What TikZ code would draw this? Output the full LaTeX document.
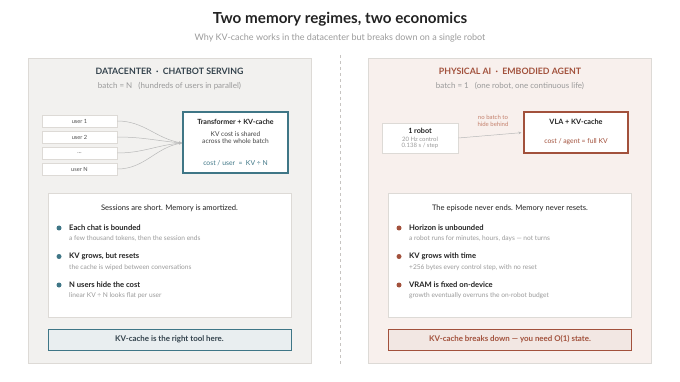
\documentclass[tikz,border=0pt]{standalone}
\usepackage{fontspec}
\setmainfont{Lato}
\usetikzlibrary{arrows.meta,positioning}

\definecolor{ink}{HTML}{222222}
\definecolor{mutedtxt}{HTML}{9A9A9A}
\definecolor{dcteal}{HTML}{3F7686}
\definecolor{dchead}{HTML}{34434D}
\definecolor{dcpanel}{HTML}{F2F1EF}
\definecolor{dcverdict}{HTML}{E9EEF0}
\definecolor{pairust}{HTML}{A2513C}
\definecolor{paipanel}{HTML}{F8F0ED}
\definecolor{paiverdict}{HTML}{F2E7E3}
\definecolor{paisoft}{HTML}{C4806C}
\definecolor{rule}{HTML}{DDDAD6}
\definecolor{wire}{HTML}{B9B9B9}

\begin{document}
\begin{tikzpicture}[x=1pt, y=-1pt,
  panel/.style={rectangle, draw=rule, line width=0.8pt, fill=#1,
    minimum width=283pt, minimum height=305pt, inner sep=0pt},
  card/.style={rectangle, draw=rule, line width=0.6pt, fill=white,
    minimum width=243pt, minimum height=124pt, inner sep=0pt},
  userbox/.style={rectangle, draw=rule, line width=0.6pt, fill=white,
    minimum width=75pt, minimum height=12pt, inner sep=0pt,
    font=\fontsize{5.7}{6.5}\selectfont, text=ink!80},
  modelbox/.style={rectangle, draw=#1, line width=1.1pt, fill=white, inner sep=0pt},
  verdict/.style={rectangle, draw=#1, line width=0.9pt, minimum width=243pt,
    minimum height=21pt, inner sep=0pt, font=\bfseries\fontsize{7.9}{9}\selectfont},
  bullet/.style={circle, fill=#1, inner sep=0pt, minimum size=5pt},
  pointtitle/.style={anchor=west, inner sep=0pt, text=ink,
    font=\bfseries\fontsize{7.6}{9}\selectfont},
  pointnote/.style={anchor=west, inner sep=0pt, text=mutedtxt,
    font=\fontsize{6.6}{7.5}\selectfont},
  feed/.style={draw=wire, line width=0.5pt, -{Stealth[length=3pt,width=2.6pt]}}
]
\useasboundingbox (0,0) rectangle (680,382);

% title
\node[font=\bfseries\fontsize{15.2}{18}\selectfont, text=ink] (title) at (340,19) {Two memory regimes, two economics};
\node[font=\fontsize{9}{11}\selectfont, text=mutedtxt] (subtitle) at (340,38) {Why KV-cache works in the datacenter but breaks down on a single robot};

\node[panel=dcpanel] (dc) at (169.5,210.5) {};
\node[panel=paipanel] (pai) at (510,210.5) {};
\draw[rule!90!black, line width=0.6pt, dash pattern=on 3pt off 3pt] (340,55) coordinate (divtop) -- (340,366) coordinate (divbot);

% datacenter side
\node[font=\bfseries\fontsize{8.8}{10}\selectfont, text=dchead] (dchead) at (169.5,71) {DATACENTER \ · \ CHATBOT SERVING};
\node[font=\fontsize{8}{9}\selectfont, text=mutedtxt] (dcbatch) at (169.5,86) {batch = N \ \ (hundreds of users in parallel)};

\node[userbox] (u1) at (79.5,121) {user 1};
\node[userbox] (u2) at (79.5,137) {user 2};
\node[userbox] (u3) at (79.5,153) {…};
\node[userbox] (uN) at (79.5,169) {user N};

\node[modelbox=dcteal, minimum width=105pt, minimum height=61pt] (tf) at (235.5,142.5) {};
\coordinate (hub) at (182,143);
\draw[feed] (u1.east) to[out=0,in=170] (hub);
\draw[feed] (u2.east) to[out=0,in=175] (hub);
\draw[feed] (u3.east) to[out=0,in=185] (hub);
\draw[feed] (uN.east) to[out=0,in=190] (hub);
\node[font=\bfseries\fontsize{7.1}{8}\selectfont, text=ink] (tftitle) at (235.5,122) {Transformer + KV-cache};
\node[font=\fontsize{6.6}{7}\selectfont, text=ink!85, align=center] (tfbody) at (235.5,137.5) {KV cost is shared\\across the whole batch};
\node[font=\fontsize{6.8}{8}\selectfont, text=dcteal] (tfcost) at (235.5,163) {cost / user \ = \ KV ÷ N};

\node[card] (dccard) at (169.5,255) {};
\node[font=\fontsize{7.6}{9}\selectfont, text=ink] (dclead) at (169.5,208) {Sessions are short. Memory is amortized.};
\node[bullet=dcteal] (dcb1) at (59,228) {};
\node[pointtitle] (dct1) at (69,227.5) {Each chat is bounded};
\node[pointnote] (dcn1) at (69,239) {a few thousand tokens, then the session ends};
\node[bullet=dcteal] (dcb2) at (59,256.5) {};
\node[pointtitle] (dct2) at (69,256) {KV grows, but resets};
\node[pointnote] (dcn2) at (69,267.5) {the cache is wiped between conversations};
\node[bullet=dcteal] (dcb3) at (59,285) {};
\node[pointtitle] (dct3) at (69,284.5) {N users hide the cost};
\node[pointnote] (dcn3) at (69,296) {linear KV ÷ N looks flat per user};

\node[verdict=dcteal, fill=dcverdict, text=dchead] (dcverdict) at (169.5,339.5) {KV-cache is the right tool here.};

% physical AI side
\node[font=\bfseries\fontsize{8.8}{10}\selectfont, text=pairust] (paihead) at (510,71) {PHYSICAL AI \ · \ EMBODIED AGENT};
\node[font=\fontsize{8}{9}\selectfont, text=mutedtxt] (paibatch) at (510,86) {batch = 1 \ \ (one robot, one continuous life)};

\node[rectangle, draw=rule, line width=0.6pt, fill=white, minimum width=76pt, minimum height=30pt, inner sep=0pt] (robot) at (420,138) {};
\node[font=\bfseries\fontsize{7.2}{8}\selectfont, text=ink] (robottitle) at (420,131) {1 robot};
\node[font=\fontsize{6}{5.8}\selectfont, text=mutedtxt, align=center] (robotbody) at (420,142.5) {20 Hz control\\0.138 s / step};

\node[modelbox=pairust, minimum width=104pt, minimum height=41pt] (vla) at (576,132.5) {};
\node[font=\bfseries\fontsize{7.3}{8}\selectfont, text=ink] (vlatitle) at (576,122) {VLA + KV-cache};
\node[font=\fontsize{6.8}{8}\selectfont, text=pairust] (vlacost) at (576,142) {cost / agent = full KV};

\draw[feed, shorten >=2pt] (robot.east) -- (vla.west);
\node[font=\fontsize{6}{6.4}\selectfont, text=paisoft, align=center] (nobatch) at (493,121) {no batch to\\hide behind};

\node[card] (paicard) at (510,255) {};
\node[font=\fontsize{7.6}{9}\selectfont, text=ink] (pailead) at (510,208) {The episode never ends. Memory never resets.};
\node[bullet=pairust] (paib1) at (399,228) {};
\node[pointtitle] (pait1) at (409,227.5) {Horizon is unbounded};
\node[pointnote] (pain1) at (409,239) {a robot runs for minutes, hours, days — not turns};
\node[bullet=pairust] (paib2) at (399,256.5) {};
\node[pointtitle] (pait2) at (409,256) {KV grows with time};
\node[pointnote] (pain2) at (409,267.5) {+256 bytes every control step, with no reset};
\node[bullet=pairust] (paib3) at (399,285) {};
\node[pointtitle] (pait3) at (409,284.5) {VRAM is fixed on-device};
\node[pointnote] (pain3) at (409,296) {growth eventually overruns the on-robot budget};

\node[verdict=pairust, fill=paiverdict, text=pairust] (paiverdict) at (510,339.5) {KV-cache breaks down — you need O(1) state.};
\end{tikzpicture}
\end{document}
